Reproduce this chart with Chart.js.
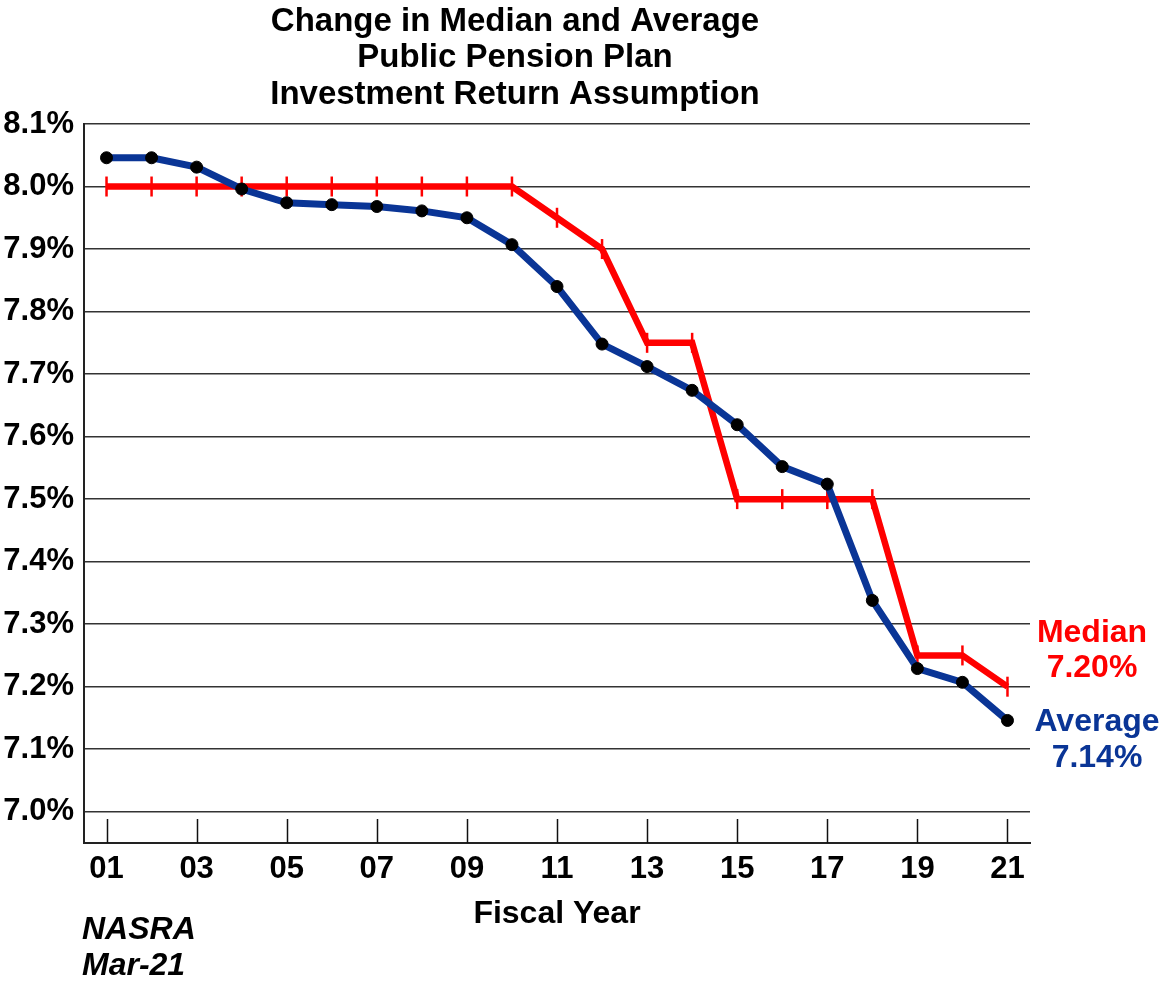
<!DOCTYPE html>
<html>
<head>
<meta charset="utf-8">
<script src="https://cdn.jsdelivr.net/npm/chart.js@4"></script>
<style>
  html, body { margin: 0; padding: 0; background: #ffffff; }
  #wrap { width: 1164px; height: 986px; }
</style>
</head>
<body>
<div id="wrap"><canvas id="c" width="1164" height="986"></canvas></div>
<script>
// ---- data ----
const years = [1, 2, 3, 4, 5, 6, 7, 8, 9, 10, 11, 12, 13, 14, 15, 16, 17, 18, 19, 20, 21];
const averageValues = [8.046, 8.046, 8.031, 7.996, 7.974, 7.971, 7.968, 7.961, 7.950, 7.907,
                       7.840, 7.748, 7.712, 7.674, 7.619, 7.552, 7.524, 7.338, 7.229, 7.207, 7.146];
const medianValues = [8.00, 8.00, 8.00, 8.00, 8.00, 8.00, 8.00, 8.00, 8.00, 8.00,
                      7.95, 7.90, 7.75, 7.75, 7.50, 7.50, 7.50, 7.50, 7.25, 7.25, 7.20];
const xTickValues = [1, 3, 5, 7, 9, 11, 13, 15, 17, 19, 21];
const xTickLabels = ['01', '03', '05', '07', '09', '11', '13', '15', '17', '19', '21'];
const yTickValues = [7.0, 7.1, 7.2, 7.3, 7.4, 7.5, 7.6, 7.7, 7.8, 7.9, 8.0, 8.1];
const titleLines = ['Change in Median and Average', 'Public Pension Plan', 'Investment Return Assumption'];
const xAxisTitle = 'Fiscal Year';
const medianLabel = ['Median', '7.20%'];
const averageLabel = ['Average', '7.14%'];
const sourceLines = ['NASRA', 'Mar-21'];

const FONT = '"Liberation Sans", Arial, Helvetica, sans-serif';
const RED = '#ff0000';
const BLUE = '#0a3596';

const toPts = (vals) => years.map((x, i) => ({ x: x, y: vals[i] }));

const extras = {
  id: 'extras',
  beforeDatasetsDraw(chart) {
    const ctx = chart.ctx;
    const xs = chart.scales.x;
    const area = chart.chartArea;
    ctx.save();
    ctx.strokeStyle = '#111';
    ctx.lineWidth = 1.5;
    xTickValues.forEach(v => {
      const px = Math.round(xs.getPixelForValue(v)) + 0.5;
      ctx.beginPath();
      ctx.moveTo(px, area.bottom - 24);
      ctx.lineTo(px, area.bottom);
      ctx.stroke();
    });
    ctx.restore();
  },
  afterDraw(chart) {
    const ctx = chart.ctx;
    ctx.save();
    ctx.textBaseline = 'alphabetic';
    ctx.font = 'bold 32px ' + FONT;
    ctx.textAlign = 'center';
    ctx.fillStyle = RED;
    ctx.fillText(medianLabel[0], 1092, 642);
    ctx.fillText(medianLabel[1], 1092, 677);
    ctx.fillStyle = BLUE;
    ctx.fillText(averageLabel[0], 1097, 731);
    ctx.fillText(averageLabel[1], 1097, 767);
    ctx.font = 'italic bold 32px ' + FONT;
    ctx.textAlign = 'left';
    ctx.fillStyle = '#000';
    ctx.fillText(sourceLines[0], 82, 939);
    ctx.fillText(sourceLines[1], 82, 975);
    ctx.restore();
  }
};

new Chart(document.getElementById('c'), {
  type: 'line',
  data: {
    datasets: [
      {
        label: 'Average',
        data: toPts(averageValues),
        borderColor: BLUE,
        borderWidth: 7,
        pointStyle: 'circle',
        pointRadius: 6,
        pointBackgroundColor: '#000',
        pointBorderColor: '#000',
        pointBorderWidth: 1,
        tension: 0,
        fill: false
      },
      {
        label: 'Median',
        data: toPts(medianValues),
        borderColor: RED,
        borderWidth: 6.5,
        pointStyle: 'line',
        pointRotation: 90,
        pointRadius: 10,
        pointBorderColor: RED,
        pointBorderWidth: 2.5,
        tension: 0,
        fill: false
      }
    ]
  },
  options: {
    responsive: false,
    animation: false,
    layout: { padding: { left: 0, right: 134, top: 0, bottom: 0 } },
    plugins: {
      legend: { display: false },
      tooltip: { enabled: false },
      title: {
        display: true,
        text: titleLines,
        color: '#000',
        font: { family: FONT, size: 33, weight: 'bold', lineHeight: 1.106 },
        padding: { top: 3.5, bottom: 11 }
      }
    },
    scales: {
      x: {
        type: 'linear',
        min: 0.5,
        max: 21.5,
        afterBuildTicks(scale) { scale.ticks = xTickValues.map(v => ({ value: v })); },
        afterFit(scale) { scale.height = 143; },
        ticks: {
          color: '#000',
          font: { family: FONT, size: 31, weight: 'bold' },
          padding: 8,
          maxRotation: 0,
          autoSkip: false,
          callback: (v) => xTickLabels[xTickValues.indexOf(v)]
        },
        grid: { display: true, drawOnChartArea: false, drawTicks: false },
        border: { display: true, color: '#222', width: 2 },
        title: {
          display: true,
          text: xAxisTitle,
          color: '#000',
          font: { family: FONT, size: 32, weight: 'bold', lineHeight: 1.15 },
          padding: { top: 0, bottom: 53 }
        }
      },
      y: {
        min: 6.95,
        max: 8.1,
        afterBuildTicks(scale) { scale.ticks = yTickValues.map(v => ({ value: v })); },
        afterFit(scale) { scale.width = 84; },
        ticks: {
          color: '#000',
          font: { family: FONT, size: 31, weight: 'bold' },
          padding: 10,
          callback: (v) => v.toFixed(1) + '%'
        },
        grid: { color: '#333', lineWidth: 1.5, drawTicks: false },
        border: { display: true, color: '#222', width: 2 }
      }
    }
  },
  plugins: [extras]
});
</script>
</body>
</html>
